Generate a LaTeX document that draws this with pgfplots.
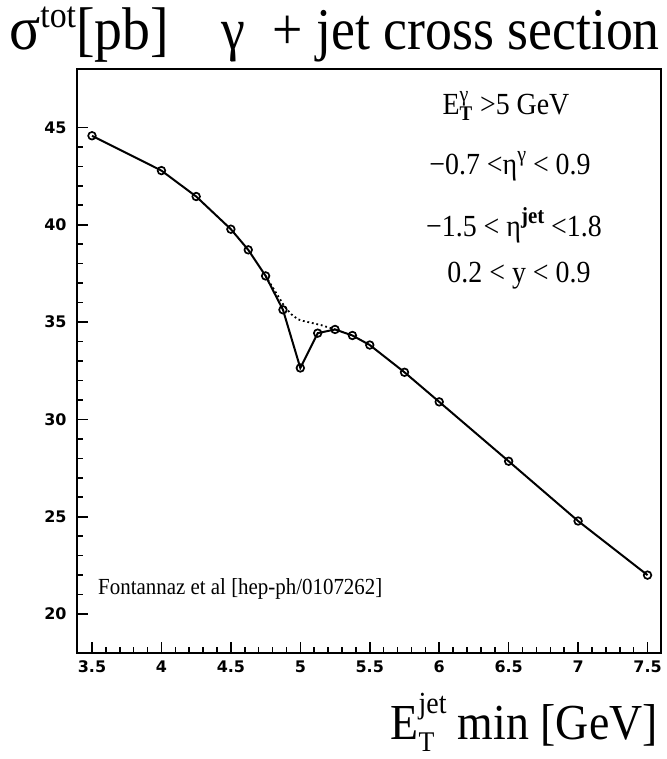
\documentclass[border=0pt]{standalone}
\usepackage{fontspec}
\setmainfont{Liberation Serif}
\newfontfamily\tickfont{DejaVu Sans}
\usepackage{graphicx}
\usepackage{pgfplots}
\pgfplotsset{compat=1.18}
\newcommand{\fs}[1]{\fontsize{#1}{#1}\selectfont}
\begin{document}
\begin{tikzpicture}[x=1bp,y=1bp]
\useasboundingbox (-77,-106) rectangle (590,653);
\begin{axis}[
  at={(0,0)}, anchor=south west,
  scale only axis, width=584bp, height=584bp,
  xmin=3.392, xmax=7.597, ymin=18, ymax=48,
  xtick={3.5,4,4.5,5,5.5,6,6.5,7,7.5},
  ytick={20,25,30,35,40,45},
  minor x tick num=4, minor y tick num=4,
  tick align=inside, xtick pos=bottom, ytick pos=left,
  major tick length=11bp, minor tick length=6bp,
  axis line style={line width=2bp},
  every tick/.style={line width=1.6bp, black},
  tick label style={font=\tickfont\bfseries\fs{16}},
  xticklabel style={yshift=-4bp},
  yticklabel style={xshift=-7bp},
  /pgf/number format/assume math mode=true,
  clip=false,
]
\addplot[black, line width=1.8bp, dash pattern=on 1.8bp off 2.8bp] coordinates {
(4.75,37.37) (4.887,35.79) (4.935,35.40) (4.983,35.14) (5.019,35.06) (5.079,34.96) (5.151,34.84) (5.25,34.62)
};
\addplot[black, line width=2bp, mark=o, mark size=3.8bp, mark options={line width=1.7bp}] coordinates {
(3.5,44.57) (4.0,42.78) (4.25,41.45) (4.5,39.77) (4.625,38.71) (4.75,37.37) (4.875,35.63) (5.0,32.64) (5.125,34.43) (5.25,34.62) (5.375,34.31) (5.5,33.82) (5.75,32.42) (6.0,30.90) (6.5,27.85) (7.0,24.78) (7.5,22.0)
};
\end{axis}
% title
\node[anchor=base west, inner sep=0] at (-68,603) {\scalebox{1}[1.08]{\fs{58}σ\raisebox{21bp}{\fs{34}tot}\fs{56}[pb]}};
\node[anchor=base, inner sep=0] at (156,603) {\scalebox{1}[1.1]{\fs{54}γ}};
\node[anchor=base east, inner sep=0] at (583,603) {\scalebox{1}[1.1]{\fs{54}+ jet cross section}};
% x label
\node[anchor=base east, inner sep=0] at (581,-86) {\scalebox{1}[1.1]{\fs{46}E\rlap{\raisebox{-11bp}{\fs{26}T}}\raisebox{23bp}{\fs{28}jet} min [GeV]}};
% annotations
\node[anchor=base, inner sep=0] at (429,538) {\scalebox{1}[1.1]{\fs{28}E\rlap{\raisebox{-5bp}{\fs{19}\bfseries T}}\raisebox{12bp}{\fs{20}γ}\, >5 GeV}};
\node[anchor=base, inner sep=0] at (433,478) {\scalebox{1}[1.1]{\fs{28}−0.7 <η\raisebox{12bp}{\fs{20}γ} < 0.9}};
\node[anchor=base, inner sep=0] at (437,416) {\scalebox{1}[1.1]{\fs{28}−1.5 < η\raisebox{12bp}{\fs{21}\bfseries jet} <1.8}};
\node[anchor=base, inner sep=0] at (442,370) {\scalebox{1}[1.1]{\fs{28}0.2 < y < 0.9}};
\node[anchor=base west, inner sep=0] at (21,58) {\scalebox{1}[1.1]{\fs{21}Fontannaz et al [hep-ph/0107262]}};
\end{tikzpicture}
\end{document}
